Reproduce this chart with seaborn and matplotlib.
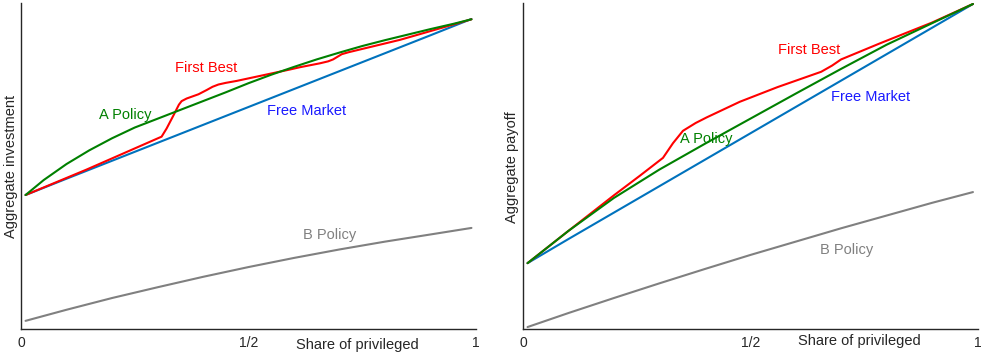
import matplotlib
matplotlib.use("Agg")
import matplotlib.pyplot as plt
import seaborn as sns

sns.set_style("white")
plt.rcParams["font.family"] = ["Liberation Sans", "DejaVu Sans"]

# share of privileged agents at which each curve is evaluated
grid = [0.01, 0.1, 0.2, 0.3, 0.4, 0.5, 0.6, 0.7, 0.8, 0.9, 0.99]
grid_fine = [0.01, 0.05, 0.1, 0.15, 0.2, 0.25, 0.3, 0.35, 0.4, 0.45, 0.5,
             0.55, 0.6, 0.65, 0.7, 0.75, 0.8, 0.85, 0.9, 0.95, 0.99]

# ---- left panel: aggregate investment ----
inv_free_market = [0.411, 0.461, 0.516, 0.571, 0.626, 0.681, 0.736, 0.791, 0.846, 0.901, 0.951]
inv_a_policy = [0.411, 0.457, 0.506, 0.548, 0.585, 0.618, 0.645, 0.672, 0.699, 0.726, 0.754,
                0.780, 0.804, 0.827, 0.848, 0.868, 0.886, 0.903, 0.920, 0.936, 0.950]
inv_b_policy = [0.025, 0.059, 0.095, 0.128, 0.160, 0.190, 0.218, 0.244, 0.268, 0.290, 0.310]

inv_fb_x = [0.01, 0.144, 0.309, 0.32, 0.335, 0.347, 0.353, 0.364, 0.378, 0.39, 0.408,
            0.421, 0.434, 0.45, 0.474, 0.591, 0.613, 0.657, 0.675, 0.686, 0.705, 0.72,
            0.833, 0.99]
inv_fb_y = [0.411, 0.489, 0.590, 0.615, 0.655, 0.688, 0.699, 0.707, 0.714, 0.720, 0.733,
            0.743, 0.750, 0.755, 0.761, 0.796, 0.803, 0.815, 0.821, 0.827, 0.843, 0.849,
            0.887, 0.950]

# ---- right panel: aggregate payoff ----
pay_free_market = [0.202, 0.276, 0.357, 0.438, 0.519, 0.600, 0.681, 0.762, 0.843, 0.924, 0.997]
pay_a_policy = [0.202, 0.301, 0.402, 0.489, 0.568, 0.645, 0.722, 0.798, 0.872, 0.938, 0.997]
pay_b_policy = [0.006, 0.049, 0.095, 0.140, 0.184, 0.227, 0.268, 0.309, 0.348, 0.387, 0.420]

pay_fb_x = [0.01, 0.1, 0.2, 0.257, 0.308, 0.33, 0.352, 0.38, 0.404, 0.477, 0.56,
            0.656, 0.68, 0.70, 0.785, 0.9, 0.99]
pay_fb_y = [0.202, 0.301, 0.410, 0.470, 0.525, 0.570, 0.608, 0.632, 0.649, 0.697, 0.742,
            0.789, 0.808, 0.827, 0.876, 0.940, 0.997]

tick_pos = [0, 0.5, 1]
tick_labels = ["0", "1/2", "1"]

C_BLUE = "#0072BD"
C_GREEN = "#008000"
C_RED = "#FF0000"
C_GRAY = "#808080"
C_AX = "#262626"

fig = plt.figure(figsize=(9.81, 3.56), dpi=100)
W, H = 981, 356
ax1 = fig.add_axes([21 / W, 27 / H, 455 / W, 326 / H])
ax2 = fig.add_axes([523 / W, 27 / H, 454.5 / W, 326 / H])


def draw(ax, fm, ap_x, ap, bp, fbx, fby):
    sns.lineplot(x=grid, y=bp, ax=ax, color=C_GRAY, lw=1.5)
    sns.lineplot(x=grid, y=fm, ax=ax, color=C_BLUE, lw=1.5)
    sns.lineplot(x=fbx, y=fby, ax=ax, color=C_RED, lw=1.5)
    sns.lineplot(x=ap_x, y=ap, ax=ax, color=C_GREEN, lw=1.5)
    ax.set_xlim(0, 1)
    ax.set_ylim(0, 1)
    sns.despine(ax=ax)
    for s in ("left", "bottom"):
        ax.spines[s].set_color(C_AX)
        ax.spines[s].set_linewidth(1.0)
    ax.set_xticks(tick_pos)
    ax.set_xticklabels(tick_labels)
    ax.set_yticks([])
    ax.tick_params(axis="x", direction="in", length=5, width=1, color=C_AX,
                   labelcolor=C_AX, labelsize=10, pad=5)
    ax.set_xlabel("")
    ax.set_ylabel("")


draw(ax1, inv_free_market, grid_fine, inv_a_policy, inv_b_policy, inv_fb_x, inv_fb_y)
draw(ax2, pay_free_market, grid, pay_a_policy, pay_b_policy, pay_fb_x, pay_fb_y)

fs = 10.5


def px(ax, x, y):
    # figure-pixel position to axes fraction
    bb = ax.get_position()
    return ((x / W - bb.x0) / bb.width, ((H - y) / H - bb.y0) / bb.height)


def label(ax, x, y, s, c, **kw):
    ax.text(*px(ax, x, y), s, color=c, fontsize=fs, ha="center", va="center",
            transform=ax.transAxes, clip_on=False, **kw)


label(ax1, 206, 68, "First Best", C_RED)
label(ax1, 125, 115, "A Policy", C_GREEN)
label(ax1, 307, 111, "Free Market", "#1a1aff")
label(ax1, 330, 235, "B Policy", C_GRAY)
label(ax1, 357, 345, "Share of privileged", C_AX)
label(ax1, 11, 166, "Aggregate investment", C_AX, rotation=90)

label(ax2, 809, 50, "First Best", C_RED)
label(ax2, 706, 139, "A Policy", C_GREEN)
label(ax2, 871, 97, "Free Market", "#1a1aff")
label(ax2, 847, 250, "B Policy", C_GRAY)
label(ax2, 859, 341, "Share of privileged", C_AX)
label(ax2, 512, 167, "Aggregate payoff", C_AX, rotation=90)

fig.savefig("out.png", dpi=100)
